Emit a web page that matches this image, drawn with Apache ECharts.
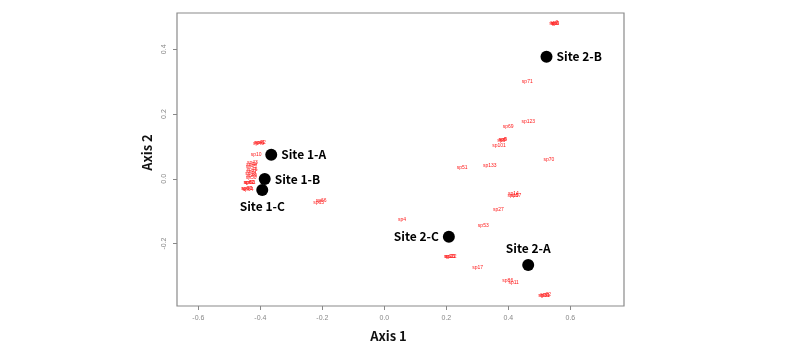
<!DOCTYPE html>
<html>
<head>
<meta charset="utf-8">
<script src="https://cdn.jsdelivr.net/npm/echarts@6/dist/echarts.min.js"></script>
<style>html,body{margin:0;padding:0;background:#fff;}#c{width:800px;height:357px;}</style>
</head>
<body>
<div id="c"></div>
<script>
// Site scores
var siteNames = ['Site 1-A', 'Site 1-B', 'Site 1-C', 'Site 2-A', 'Site 2-B', 'Site 2-C'];
var siteX = [-0.365, -0.386, -0.394, 0.464, 0.523, 0.208];
var siteY = [0.074, -0.001, -0.035, -0.266, 0.377, -0.179];
var siteLabelPos = ['right', 'right', 'bottom', 'top', 'right', 'left'];

// Species scores
var spNames = ['sp1','sp2','sp3','sp5','sp71','sp123','sp69','sp6','sp8','sp9','sp101','sp70','sp51','sp133',
  'sp14','sp57','sp19','sp27','sp53','sp4','sp20','sp21','sp22','sp17','sp86','sp11','sp30','sp31','sp32',
  'sp40','sp41','sp42','sp10','sp43','sp44','sp45','sp46','sp47','sp48','sp49','sp50',
  'sp60','sp61','sp62','sp63','sp64','sp67','sp65','sp66'];
var spX = [0.545,0.548,0.551,0.550,0.461,0.464,0.399,0.377,0.381,0.383,0.370,0.531,0.251,0.340,
  0.416,0.424,0.415,0.368,0.319,0.057,0.209,0.212,0.215,0.301,0.398,0.417,0.514,0.517,0.520,
  -0.406,-0.403,-0.400,-0.414,-0.426,-0.428,-0.430,-0.427,-0.429,-0.431,-0.428,-0.430,
  -0.436,-0.433,-0.437,-0.443,-0.440,-0.445,-0.212,-0.204];
var spY = [0.480,0.481,0.479,0.480,0.301,0.178,0.162,0.119,0.121,0.120,0.101,0.059,0.033,0.040,
  -0.046,-0.052,-0.051,-0.094,-0.144,-0.126,-0.241,-0.240,-0.239,-0.275,-0.314,-0.321,-0.361,-0.360,-0.359,
  0.110,0.112,0.111,0.074,0.050,0.043,0.036,0.029,0.022,0.016,0.010,0.004,
  -0.011,-0.013,-0.012,-0.031,-0.033,-0.032,-0.074,-0.068];

var xTicks = [-0.6, -0.4, -0.2, 0.0, 0.2, 0.4, 0.6];
var yTicks = [-0.2, 0.0, 0.2, 0.4];

var siteData = siteNames.map(function (n, i) {
  return { name: n, value: [siteX[i], siteY[i]], label: { position: siteLabelPos[i] } };
});
var spData = spNames.map(function (n, i) { return { name: n, value: [spX[i], spY[i]] }; });

var chart = echarts.init(document.getElementById('c'), null, { renderer: 'canvas' });
chart.setOption({
  animation: false,
  backgroundColor: '#fff',
  grid: { left: 177, top: 13, right: 176, bottom: 51, show: true, borderColor: '#8a8a8a', borderWidth: 1.2, backgroundColor: '#fff' },
  xAxis: {
    type: 'value', min: -0.669, max: 0.773,
    name: 'Axis 1', nameLocation: 'middle', nameGap: 24,
    nameTextStyle: { fontFamily: 'Noto Sans CJK KR', fontWeight: 'bold', fontSize: 13, color: '#111', padding: [0, 24, 0, 0] },
    splitLine: { show: false },
    axisLine: { show: false, onZero: false },
    axisTick: { show: true, length: 4, customValues: xTicks, lineStyle: { color: '#888' } },
    axisLabel: { customValues: xTicks, fontSize: 7, color: '#888', margin: 9, fontFamily: 'Liberation Sans',
      formatter: function (v) { return v.toFixed(1); } }
  },
  yAxis: {
    type: 'value', min: -0.393, max: 0.512,
    name: 'Axis 2', nameLocation: 'middle', nameGap: 23, nameRotate: 90,
    nameTextStyle: { fontFamily: 'Noto Sans CJK KR', fontWeight: 'bold', fontSize: 13, color: '#111', padding: [0, 0, 0, 14] },
    splitLine: { show: false },
    axisLine: { show: false, onZero: false },
    axisTick: { show: true, length: 4, customValues: yTicks, lineStyle: { color: '#888' } },
    axisLabel: { customValues: yTicks, fontSize: 7, color: '#888', rotate: 90, margin: 9, fontFamily: 'Liberation Sans',
      formatter: function (v) { return v.toFixed(1); } }
  },
  series: [
    {
      type: 'scatter', data: spData, symbolSize: 0, silent: true,
      itemStyle: { opacity: 1 },
      label: { show: true, position: 'inside', formatter: '{b}', color: '#ff1a1a', fontSize: 5, fontFamily: 'Liberation Sans' },
      labelLayout: { hideOverlap: false }
    },
    {
      type: 'scatter', data: siteData, symbol: 'circle', symbolSize: 12,
      itemStyle: { color: '#000', opacity: 1 },
      label: { show: true, formatter: '{b}', color: '#000', fontSize: 12, fontWeight: 'bold', fontFamily: 'Noto Sans CJK KR', distance: 4 }
    }
  ]
});
</script>
</body>
</html>
